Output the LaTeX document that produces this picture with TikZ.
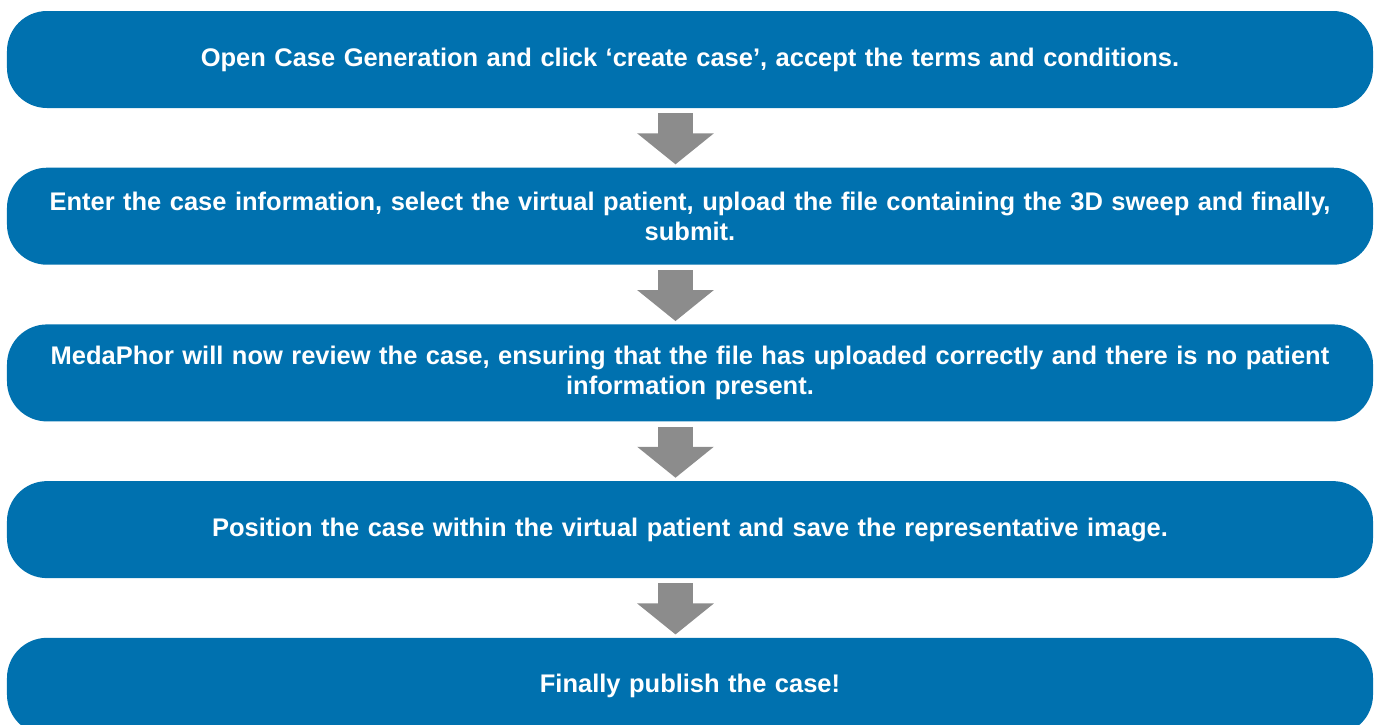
\documentclass[tikz,border=0pt]{standalone}
\usepackage{fontspec}
\setmainfont{Liberation Sans}
\usepackage{xcolor}
\usepackage{tikz}
\usetikzlibrary{arrows.meta, positioning}
\definecolor{myblue}{RGB}{0,113,175}
\definecolor{mygrey}{RGB}{140,140,140}
\tikzset{
  stepbox/.style={rectangle, fill=myblue, text=white,
    minimum width=27.32cm, minimum height=1.94cm, text width=26.4cm,
    align=center, rounded corners=0.8cm, inner sep=0pt,
    font=\bfseries\fontsize{14.5}{17.4}\selectfont},
  blockarrow/.style={mygrey, line width=0.7cm,
    -{Triangle[width=1.5cm, length=0.62cm]}}
}

\begin{document}
\begin{tikzpicture}
  \path[use as bounding box, clip] (0,0) rectangle (27.56,-14.48);
  \node[stepbox] (open) at (13.8,-1.19) {Open Case Generation and click ‘create case’, accept the terms and conditions.};
  \node[stepbox, below=1.18cm of open] (enter) {Enter the case information, select the virtual patient, upload the file containing the 3D sweep and finally,\\ submit.};
  \node[stepbox, below=1.18cm of enter] (review) {MedaPhor will now review the case, ensuring that the file has uploaded correctly and there is no patient\\ information present.};
  \node[stepbox, below=1.18cm of review] (position) {Position the case within the virtual patient and save the representative image.};
  \node[stepbox, below=1.18cm of position] (publish) {Finally publish the case!};
  % arrows between the steps
  \foreach \a/\b in {open/enter, enter/review, review/position, position/publish}
    \draw[blockarrow] ([xshift=-0.29cm, yshift=-0.1cm]\a.south) -- ([xshift=-0.29cm, yshift=0.06cm]\b.north);
\end{tikzpicture}
\end{document}
